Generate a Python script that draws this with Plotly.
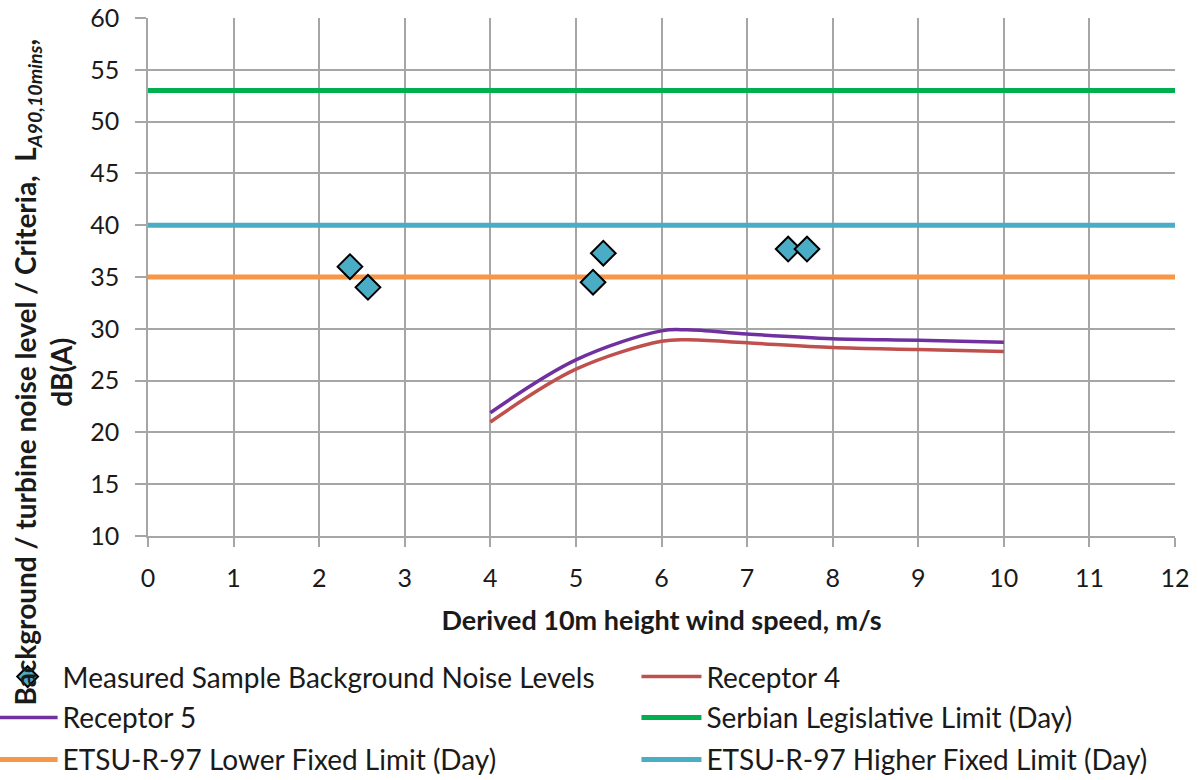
import plotly.graph_objects as go

# Measured background noise samples
sample_speed = [2.36, 2.57, 5.20, 5.32, 7.48, 7.70]
sample_level = [36.0, 34.0, 34.5, 37.3, 37.7, 37.7]

# Predicted turbine noise at receptors
pred_speed = [4, 5, 6, 6.3, 7, 8, 9, 10]
receptor4 = [21.0, 26.1, 28.8, 28.95, 28.65, 28.2, 28.0, 27.8]
receptor5 = [21.9, 27.0, 29.8, 29.9, 29.5, 29.05, 28.9, 28.7]

# Fixed limits (day)
limit_speed = [0, 12]
serbian_limit = 53
etsu_lower = 35
etsu_higher = 40

x_ticks = list(range(0, 13))
y_ticks = list(range(10, 61, 5))

FONT = "Lato, Carlito, Calibri, sans-serif"
GRID = "#A6A6A6"

fig = go.Figure()

fig.add_trace(go.Scatter(
    x=limit_speed, y=[serbian_limit] * 2, mode="lines",
    line=dict(color="#00B050", width=5), name="Serbian Legislative Limit (Day)",
    legend="legend5"))
fig.add_trace(go.Scatter(
    x=limit_speed, y=[etsu_higher] * 2, mode="lines",
    line=dict(color="#4BACC6", width=5), name="ETSU-R-97 Higher Fixed Limit (Day)",
    legend="legend7"))
fig.add_trace(go.Scatter(
    x=limit_speed, y=[etsu_lower] * 2, mode="lines",
    line=dict(color="#F79646", width=5), name="ETSU-R-97 Lower Fixed Limit (Day)",
    legend="legend6"))
fig.add_trace(go.Scatter(
    x=pred_speed, y=receptor4, mode="lines", line_shape="spline",
    line=dict(color="#C0504D", width=3.5), name="Receptor 4", legend="legend3"))
fig.add_trace(go.Scatter(
    x=pred_speed, y=receptor5, mode="lines", line_shape="spline",
    line=dict(color="#7030A0", width=3.5), name="Receptor 5", legend="legend4"))
fig.add_trace(go.Scatter(
    x=sample_speed, y=sample_level, mode="markers",
    marker=dict(symbol="diamond", size=19, color="#4BACC6",
                line=dict(color="black", width=2)),
    name="Measured Sample Background Noise Levels", legend="legend2"))


def legend_at(x, y):
    return dict(
        orientation="h", xanchor="left", yanchor="middle", x=x, y=y,
        font=dict(family=FONT, size=28, color="#1a1a1a"),
        bgcolor="rgba(0,0,0,0)", itemwidth=60,
    )


col1, col2 = -0.1513, 0.4756
row1, row2, row3 = -0.272, -0.351, -0.432

fig.update_layout(
    width=1198, height=780,
    margin=dict(l=148, r=23, t=18, b=244, autoexpand=False),
    plot_bgcolor="white", paper_bgcolor="white",
    font=dict(family=FONT, size=25, color="#1a1a1a"),
    xaxis=dict(
        range=[0, 12], tickvals=x_ticks, showgrid=True, gridcolor=GRID, gridwidth=1.5,
        ticks="outside", ticklen=9, tickcolor=GRID, tickwidth=1.5,
        showline=True, linecolor=GRID, linewidth=1.5, zeroline=False,
        tickfont=dict(size=25), ticklabelstandoff=10, automargin=False,
        title=dict(text="<b>Derived 10m height wind speed, m/s</b>",
                   font=dict(size=27), standoff=20),
    ),
    yaxis=dict(
        range=[10, 60], tickvals=y_ticks, showgrid=True, gridcolor=GRID, gridwidth=1.5,
        ticks="outside", ticklen=11, tickcolor=GRID, tickwidth=1.5,
        showline=True, linecolor=GRID, linewidth=1.5, zeroline=False,
        tickfont=dict(size=25), ticklabelstandoff=11, automargin=False,
    ),
    legend2=legend_at(col1, row1),
    legend3=legend_at(col2, row1),
    legend4=legend_at(col1, row2),
    legend5=legend_at(col2, row2),
    legend6=legend_at(col1, row3),
    legend7=legend_at(col2, row3),
    annotations=[dict(
        text="<b>Background / turbine noise level / Criteria,  L<sub><i>A90,10mins</i></sub>,<br>dB(A)</b>",
        textangle=-90, xref="paper", yref="paper", x=-0.102, y=0.316,
        xanchor="center", yanchor="middle", showarrow=False,
        font=dict(family=FONT, size=28, color="#1a1a1a"),
    )],
)

fig.write_html("out.html")
